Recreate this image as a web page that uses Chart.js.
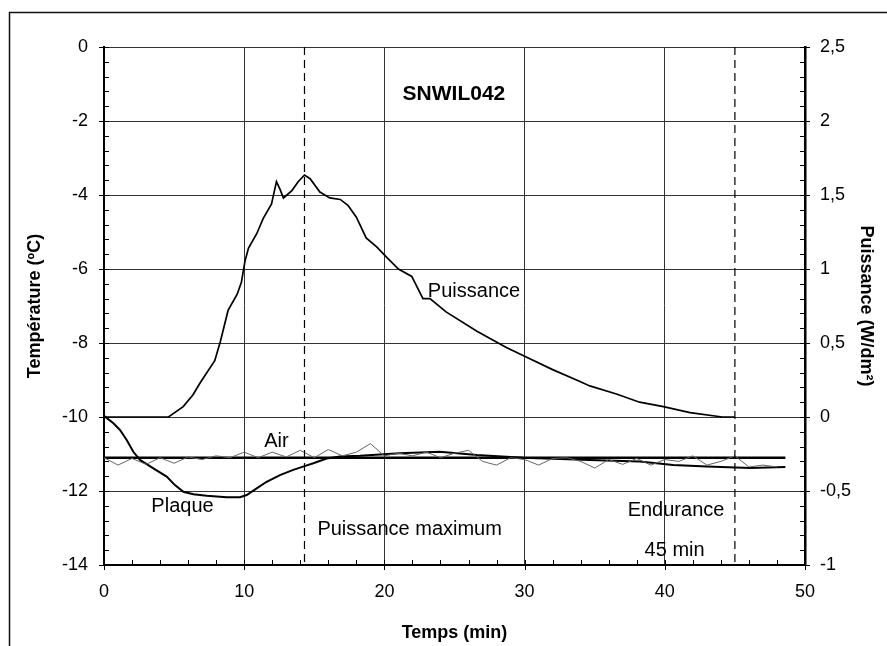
<!DOCTYPE html>
<html>
<head>
<meta charset="utf-8">
<script src="https://cdn.jsdelivr.net/npm/chart.js@4.4.0/dist/chart.umd.min.js"></script>
<style>
  html, body { margin: 0; padding: 0; background: #fff; }
  canvas { display: block; }
</style>
</head>
<body>
<canvas id="chart" width="887" height="646"></canvas>
<script>
// Puissance (W/dm², right axis)
const puissanceTime = [0, 4.6, 5.65, 6.35, 6.85, 7.9, 8.3, 8.85, 9.5, 9.8, 10.05, 10.3, 10.9, 11.35, 11.95, 12.3, 12.55, 12.8, 13.4, 13.85, 14.3, 14.7, 15.4, 16.1, 16.85, 17.4, 18.0, 18.7, 19.45, 20.15, 21.0, 21.95, 22.75, 23.25, 24.4, 26.6, 28.7, 30, 32, 33.95, 34.65, 36.55, 38.2, 39.9, 41.8, 44.1, 45];
const puissanceValues = [0, 0, 0.07, 0.15, 0.23, 0.38, 0.51, 0.72, 0.83, 0.91, 1.05, 1.14, 1.24, 1.34, 1.44, 1.59, 1.54, 1.48, 1.53, 1.59, 1.635, 1.61, 1.52, 1.48, 1.47, 1.43, 1.35, 1.21, 1.15, 1.08, 1.0, 0.95, 0.80, 0.80, 0.71, 0.58, 0.47, 0.41, 0.32, 0.24, 0.21, 0.155, 0.10, 0.07, 0.03, 0.0, 0.0];

// Plaque (°C, left axis)
const plaqueTime = [0, 0.07, 0.67, 1.14, 1.62, 2.09, 2.57, 3.52, 4.47, 5.06, 5.66, 6.37, 7.33, 8.75, 9.7, 10.18, 10.89, 11.6, 12.55, 13.5, 14.2, 14.93, 15.88, 16.83, 18.26, 21.1, 23.95, 26.6, 29.9, 34.65, 38.2, 40.6, 43.0, 46.1, 48.6];
const plaqueValues = [-10, -9.99, -10.17, -10.35, -10.62, -10.94, -11.16, -11.39, -11.61, -11.84, -12.02, -12.09, -12.13, -12.17, -12.17, -12.11, -11.93, -11.75, -11.57, -11.43, -11.34, -11.25, -11.12, -11.07, -11.05, -10.98, -10.94, -11.03, -11.1, -11.16, -11.2, -11.3, -11.34, -11.38, -11.35];

// Air (°C, left axis)
const airTime = [0, 1, 2, 3, 4, 5, 6, 7, 8, 9, 10, 11, 12, 13, 14, 15, 16, 17, 18, 19, 20, 21, 22, 23, 24, 25, 26, 27, 28, 29, 30, 31, 32, 33, 34, 35, 36, 37, 38, 39, 40, 41, 42, 43, 44, 45, 46, 47, 48];
const airValues = [-11.1, -11.3, -11.12, -11.28, -11.1, -11.25, -11.08, -11.15, -11.05, -11.1, -10.95, -11.1, -10.95, -11.08, -10.9, -11.1, -10.88, -11.05, -10.95, -10.72, -11.05, -10.98, -11.05, -10.95, -11.1, -10.98, -10.9, -11.2, -11.3, -11.1, -11.15, -11.3, -11.12, -11.1, -11.2, -11.38, -11.15, -11.28, -11.12, -11.3, -11.15, -11.2, -11.05, -11.3, -11.2, -11.05, -11.35, -11.3, -11.35];

// consigne line and markers
const consigneTime = [0, 48.6];
const consigneValue = -11.1;
const maxPuissanceTime = 14.3;
const enduranceTime = 45;

const xTicks = [0, 10, 20, 30, 40, 50];
const tempTicks = [0, -2, -4, -6, -8, -10, -12, -14];
const puisTicks = [2.5, 2, 1.5, 1, 0.5, 0, -0.5, -1];

const toPoints = (xs, ys) => xs.map((x, i) => ({ x: x, y: ys[i] }));

const FONT = "'Liberation Sans', Arial, sans-serif";

const framePlugin = {
  id: 'frame',
  beforeDraw(chart) {
    const ctx = chart.ctx;
    ctx.save();
    ctx.fillStyle = '#fff';
    ctx.fillRect(0, 0, chart.width, chart.height);
    ctx.strokeStyle = '#111';
    ctx.lineWidth = 1.5;
    ctx.beginPath();
    ctx.moveTo(9.5, chart.height);
    ctx.lineTo(9.5, 12.5);
    ctx.lineTo(chart.width, 12.5);
    ctx.stroke();
    ctx.restore();
  }
};

const tickPlugin = {
  id: 'minorTicks',
  afterDraw(chart) {
    const ctx = chart.ctx;
    const xs = chart.scales.x, yl = chart.scales.y, yr = chart.scales.y2;
    const a = chart.chartArea;
    ctx.save();
    ctx.strokeStyle = '#000';
    ctx.lineWidth = 1;
    ctx.beginPath();
    for (let i = 0; i <= 25; i++) {
      const v = i * 2;
      const px = Math.round(xs.getPixelForValue(v)) + 0.5;
      ctx.moveTo(px, a.bottom + (v % 10 === 0 ? 5 : 0));
      ctx.lineTo(px, a.bottom - 5);
    }
    for (let i = 0; i <= 35; i++) {
      const v = -14 + i * 0.4;
      const py = Math.round(yl.getPixelForValue(v)) + 0.5;
      const major = i % 5 === 0;
      ctx.moveTo(a.left - (major ? 5 : 0), py);
      ctx.lineTo(a.left + 5, py);
    }
    for (let i = 0; i <= 35; i++) {
      const v = -1 + i * 0.1;
      const py = Math.round(yr.getPixelForValue(v)) + 0.5;
      const major = i % 5 === 0;
      ctx.moveTo(a.right + (major ? 5 : 0), py);
      ctx.lineTo(a.right - 5, py);
    }
    ctx.stroke();
    ctx.restore();
  }
};

const labelPlugin = {
  id: 'labels',
  afterDatasetsDraw(chart) {
    const ctx = chart.ctx;
    const xs = chart.scales.x, yl = chart.scales.y;
    const put = (text, x, y, font, align) => {
      ctx.font = font;
      ctx.textAlign = align || 'center';
      ctx.textBaseline = 'middle';
      ctx.fillText(text, xs.getPixelForValue(x), yl.getPixelForValue(y));
    };
    ctx.save();
    ctx.fillStyle = '#000';
    put('SNWIL042', 24.96, -1.27, 'bold 21px ' + FONT);
    put('Puissance', 23.1, -6.62, '20px ' + FONT, 'left');
    put('Air', 12.3, -10.67, '20px ' + FONT);
    put('Plaque', 5.6, -12.43, '20px ' + FONT);
    put('Puissance maximum', 21.8, -13.05, '20px ' + FONT);
    put('Endurance', 40.8, -12.54, '20px ' + FONT);
    put('45 min', 40.7, -13.6, '20px ' + FONT);
    ctx.restore();
  }
};

new Chart(document.getElementById('chart').getContext('2d'), {
  type: 'line',
  data: {
    datasets: [
      {
        label: 'Puissance maximum',
        data: toPoints([maxPuissanceTime, maxPuissanceTime], [0, -14]),
        yAxisID: 'y',
        borderColor: '#000',
        borderWidth: 1.2,
        borderDash: [8, 5],
        pointRadius: 0
      },
      {
        label: 'Endurance',
        data: toPoints([enduranceTime, enduranceTime], [0, -14]),
        yAxisID: 'y',
        borderColor: '#000',
        borderWidth: 1.2,
        borderDash: [8, 5],
        pointRadius: 0
      },
      {
        label: 'Air',
        data: toPoints(airTime, airValues),
        yAxisID: 'y',
        borderColor: '#666',
        borderWidth: 1,
        pointRadius: 0,
        tension: 0
      },
      {
        label: 'Consigne',
        data: toPoints(consigneTime, [consigneValue, consigneValue]),
        yAxisID: 'y',
        borderColor: '#000',
        borderWidth: 2.5,
        pointRadius: 0
      },
      {
        label: 'Plaque',
        data: toPoints(plaqueTime, plaqueValues),
        yAxisID: 'y',
        borderColor: '#000',
        borderWidth: 2,
        pointRadius: 0,
        tension: 0
      },
      {
        label: 'Puissance',
        data: toPoints(puissanceTime, puissanceValues),
        yAxisID: 'y2',
        borderColor: '#000',
        borderWidth: 1.7,
        pointRadius: 0,
        tension: 0
      }
    ]
  },
  options: {
    responsive: false,
    animation: false,
    layout: { padding: { top: 47, left: 0, right: 0, bottom: 0 } },
    plugins: { legend: { display: false }, tooltip: { enabled: false } },
    scales: {
      x: {
        type: 'linear',
        min: 0,
        max: 50,
        afterFit: s => { s.height = 81; },
        afterBuildTicks: s => { s.ticks = xTicks.map(v => ({ value: v })); },
        grid: { color: '#333', lineWidth: 1, drawTicks: false },
        border: { color: '#000', width: 2 },
        ticks: { padding: 16, color: '#000', font: { family: FONT, size: 18 } },
        title: { display: true, text: 'Temps (min)', color: '#000', padding: { top: 0, bottom: 2 }, font: { family: FONT, size: 18, weight: 'bold' } }
      },
      y: {
        position: 'left',
        min: -14,
        max: 0,
        afterFit: s => { s.width = 104; },
        afterBuildTicks: s => { s.ticks = tempTicks.map(v => ({ value: v })); },
        grid: { color: '#333', lineWidth: 1, drawTicks: false },
        border: { color: '#000', width: 2 },
        ticks: { padding: 16, color: '#000', font: { family: FONT, size: 18 } },
        title: { display: true, text: 'Température (ºC)', color: '#000', padding: { top: 24, bottom: 0 }, font: { family: FONT, size: 18, weight: 'bold' } }
      },
      y2: {
        position: 'right',
        min: -1,
        max: 2.5,
        afterFit: s => { s.width = 82; },
        afterBuildTicks: s => { s.ticks = puisTicks.map(v => ({ value: v })); },
        grid: { drawOnChartArea: false, drawTicks: false },
        border: { color: '#000', width: 2.5 },
        ticks: {
          padding: 15,
          color: '#000',
          font: { family: FONT, size: 18 },
          callback: v => String(v).replace('.', ',')
        },
        title: { display: true, text: 'Puissance (W/dm²)', color: '#000', padding: { top: 10, bottom: 0 }, font: { family: FONT, size: 18, weight: 'bold' } }
      }
    }
  },
  plugins: [framePlugin, tickPlugin, labelPlugin]
});
</script>
</body>
</html>
